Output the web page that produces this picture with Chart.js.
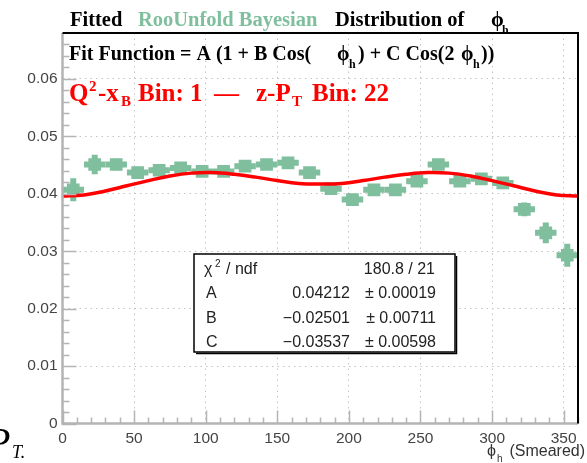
<!DOCTYPE html>
<html>
<head>
<meta charset="utf-8">
<script src="https://cdn.jsdelivr.net/npm/chart.js@4.4.1/dist/chart.umd.min.js"></script>
<style>
    body { margin: 0; background: #fff; }
    canvas { display: block; }
</style>
</head>
<body>
<canvas id="fitChart" width="587" height="463"></canvas>
<script>
// Data
const phiBins = [7.5, 22.5, 37.5, 52.5, 67.5, 82.5, 97.5, 112.5, 127.5, 142.5, 157.5, 172.5,
    187.5, 202.5, 217.5, 232.5, 247.5, 262.5, 277.5, 292.5, 307.5, 322.5, 337.5, 352.5];
const unfoldedValues = [0.0407, 0.0451, 0.0451, 0.0437, 0.0441, 0.0445, 0.0439, 0.0439,
    0.0448, 0.0451, 0.0454, 0.0437, 0.0409, 0.0390, 0.0407, 0.0407,
    0.0422, 0.0451, 0.0422, 0.0426, 0.0419, 0.0373, 0.0332, 0.0293];
const unfoldedErrors = [0.0020, 0.0017, 0.0010, 0.0010, 0.0009, 0.0009, 0.0009, 0.0009,
    0.0009, 0.0009, 0.0009, 0.0009, 0.0009, 0.0009, 0.0009, 0.0009,
    0.0009, 0.0009, 0.0009, 0.0009, 0.0009, 0.0012, 0.0018, 0.0020];
const fitPhi = [0, 15, 30, 45, 60, 75, 90, 105, 120, 135, 150, 165, 180,
    195, 210, 225, 240, 255, 270, 285, 300, 315, 330, 345, 360];
const fitValues = [0.0396, 0.0398, 0.0405, 0.0414, 0.0423, 0.0431, 0.0436, 0.0437, 0.0434,
    0.0429, 0.0423, 0.0418, 0.0417, 0.0418, 0.0423, 0.0429, 0.0434, 0.0437, 0.0436,
    0.0431, 0.0423, 0.0414, 0.0405, 0.0398, 0.0396];
const xTicks = [0, 50, 100, 150, 200, 250, 300, 350];
const yTicks = [0, 0.01, 0.02, 0.03, 0.04, 0.05, 0.06];
const statsRows = [
    ['A', '0.04212', '0.00019'],
    ['B', '\u22120.02501', '0.00711'],
    ['C', '\u22120.03537', '0.00598']
];

const GREEN = '#7fbf9e';
const RED = '#ff0000';
const AXIS = '#b4b4b4';
const SERIF = '"Liberation Serif", "DejaVu Serif", serif';
const SANS = '"Liberation Sans", Arial, sans-serif';

// each piece: [text, x, dy, font, color]
const drawPieces = (ctx, y, pieces) => {
    pieces.forEach(([text, x, dy, font, color]) => {
        ctx.font = font;
        ctx.fillStyle = color;
        ctx.fillText(text, x, y + dy);
    });
};

// Error bars, under the markers
const errorBars = {
    id: 'errorBars',
    beforeDatasetsDraw: (chart) => {
        const { ctx, scales: { x, y } } = chart;
        ctx.save();
        ctx.strokeStyle = GREEN;
        ctx.lineWidth = 6;
        phiBins.forEach((phi, i) => {
            const px = x.getPixelForValue(phi);
            const py = y.getPixelForValue(unfoldedValues[i]);
            ctx.beginPath();
            ctx.moveTo(x.getPixelForValue(phi - 7.5), py);
            ctx.lineTo(x.getPixelForValue(phi + 7.5), py);
            ctx.moveTo(px, y.getPixelForValue(unfoldedValues[i] - unfoldedErrors[i]));
            ctx.lineTo(px, y.getPixelForValue(unfoldedValues[i] + unfoldedErrors[i]));
            ctx.stroke();
        });
        ctx.restore();
    }
};

// Frame, ticks, texts and stats box
const decorations = {
    id: 'decorations',
    afterDraw: (chart) => {
        const { ctx, chartArea: a, scales: { x, y } } = chart;
        ctx.save();

        // ticks inside the frame
        ctx.strokeStyle = AXIS;
        ctx.lineWidth = 1.5;
        ctx.beginPath();
        for (let v = 0; v <= 0.068; v += 0.002) {
            const py = Math.round(y.getPixelForValue(v)) + 0.5;
            const major = Math.abs(v / 0.01 - Math.round(v / 0.01)) < 1e-6;
            ctx.moveTo(a.left, py);
            ctx.lineTo(a.left + (major ? 14 : 7), py);
        }
        for (let v = 0; v <= 360; v += 10) {
            const px = Math.round(x.getPixelForValue(v)) + 0.5;
            ctx.moveTo(px, a.bottom);
            ctx.lineTo(px, a.bottom - (v % 50 === 0 ? 13 : 6));
        }
        ctx.stroke();

        // axis lines
        ctx.lineWidth = 2.5;
        ctx.beginPath();
        ctx.moveTo(a.left, a.top);
        ctx.lineTo(a.left, a.bottom);
        ctx.lineTo(a.right, a.bottom);
        ctx.stroke();
        ctx.strokeStyle = '#000';
        ctx.lineWidth = 2;
        ctx.beginPath();
        ctx.moveTo(a.left, a.top);
        ctx.lineTo(a.right, a.top);
        ctx.lineTo(a.right, a.bottom);
        ctx.stroke();

        ctx.textBaseline = 'alphabetic';
        ctx.textAlign = 'left';

        // title
        const tFont = 'bold 20.5px ' + SERIF;
        drawPieces(ctx, 26, [
            ['Fitted', 70, 0, tFont, '#000'],
            ['RooUnfold Bayesian', 138, 0, tFont, GREEN],
            ['Distribution of', 335, 0, tFont, '#000'],
            ['\u03d5', 491, 0, tFont, '#000'],
            ['h', 502, 8, 'bold 12px ' + SERIF, '#000']
        ]);

        // fit function
        const fFont = 'bold 20px ' + SERIF;
        const fSub = 'bold 12px ' + SERIF;
        drawPieces(ctx, 60, [
            ['Fit Function = A (1 + B Cos(', 69, 0, fFont, '#000'],
            ['\u03d5', 337, 0, fFont, '#000'],
            ['h', 349, 8, fSub, '#000'],
            [') + C Cos(2', 358, 0, fFont, '#000'],
            ['\u03d5', 461, 0, fFont, '#000'],
            ['h', 473, 8, fSub, '#000'],
            ['))', 481, 0, fFont, '#000']
        ]);

        // bin label
        const rFont = 'bold 25px ' + SERIF;
        const rSmall = 'bold 15px ' + SERIF;
        drawPieces(ctx, 101, [
            ['Q', 69, 0, rFont, RED],
            ['2', 89, -10, rSmall, RED],
            ['-x', 98, 0, rFont, RED],
            ['B', 121, 5, rSmall, RED],
            ['Bin: 1', 138, 0, rFont, RED],
            ['\u2014', 214, 0, rFont, RED],
            ['z-P', 256, 0, rFont, RED],
            ['T', 292, 5, rSmall, RED],
            ['Bin: 22', 312, 0, rFont, RED]
        ]);

        // stats box
        const bx = 194, by = 254, bw = 261, bh = 98;
        ctx.fillStyle = '#fff';
        ctx.fillRect(bx, by, bw, bh);
        ctx.strokeStyle = '#000';
        ctx.lineWidth = 1.5;
        ctx.strokeRect(bx, by, bw, bh);
        ctx.beginPath();
        ctx.moveTo(bx + 2, by + bh + 1.5);
        ctx.lineTo(bx + bw + 1.5, by + bh + 1.5);
        ctx.lineTo(bx + bw + 1.5, by + 2);
        ctx.stroke();

        const sFont = '16px ' + SANS;
        const ink = '#222';
        drawPieces(ctx, 274, [
            ['\u03c7', 204, 0, sFont, ink],
            ['2', 215, -7, '10px ' + SANS, ink],
            ['/ ndf', 226, 0, sFont, ink]
        ]);
        ctx.font = sFont;
        ctx.fillStyle = ink;
        ctx.textAlign = 'right';
        ctx.fillText('180.8 / 21', 435, 274);
        statsRows.forEach((row, i) => {
            const ry = 298 + i * 24.5;
            ctx.textAlign = 'left';
            ctx.fillText(row[0], 206, ry);
            ctx.textAlign = 'right';
            ctx.fillText(row[1], 350, ry);
            ctx.fillText('\u00b1 ' + row[2], 436, ry);
        });

        // x axis title
        ctx.fillStyle = '#333';
        ctx.textAlign = 'right';
        ctx.font = '16px ' + SANS;
        ctx.fillText('(Smeared)', 585, 456);
        ctx.textAlign = 'left';
        ctx.fillText('\u03d5', 487, 456);
        ctx.font = '10px ' + SANS;
        ctx.fillText('h', 497, 462);

        // stray label at the bottom left
        ctx.fillStyle = '#000';
        ctx.font = 'italic 40px ' + SERIF;
        ctx.fillText('P', -14, 455);
        ctx.font = 'italic 18px ' + SERIF;
        ctx.fillText('T.', 12, 458);

        ctx.restore();
    }
};

new Chart(document.getElementById('fitChart'), {
    type: 'scatter',
    data: {
        datasets: [
            {
                type: 'line',
                label: 'Fit',
                data: fitPhi.map((phi, i) => ({ x: phi, y: fitValues[i] })),
                borderColor: RED,
                borderWidth: 3.5,
                pointRadius: 0,
                tension: 0.4,
                order: 0
            },
            {
                label: 'RooUnfold Bayesian',
                data: phiBins.map((phi, i) => ({ x: phi, y: unfoldedValues[i] })),
                backgroundColor: GREEN,
                borderWidth: 0,
                pointStyle: 'rect',
                pointRadius: 9,
                order: 1
            }
        ]
    },
    options: {
        responsive: false,
        animation: false,
        devicePixelRatio: 1,
        layout: { padding: { left: 0, right: 2, top: 33, bottom: 0 } },
        plugins: { legend: { display: false }, tooltip: { enabled: false } },
        scales: {
            x: {
                type: 'linear',
                min: 0,
                max: 360,
                afterBuildTicks: (s) => { s.ticks = xTicks.map(v => ({ value: v })); },
                afterFit: (s) => { s.height = 39.5; },
                ticks: {
                    padding: 6,
                    autoSkip: false,
                    maxRotation: 0,
                    color: '#444',
                    font: { family: SANS, size: 15.5 },
                    callback: (v) => String(v)
                },
                grid: { color: '#c4c4c4', lineWidth: 1, drawTicks: false },
                border: { display: false, dash: [1.5, 4] }
            },
            y: {
                min: 0,
                max: 0.068,
                afterBuildTicks: (s) => { s.ticks = yTicks.map(v => ({ value: v })); },
                afterFit: (s) => { s.width = 62.5; },
                ticks: {
                    padding: 5,
                    autoSkip: false,
                    color: '#444',
                    font: { family: SANS, size: 15.5 },
                    callback: (v) => v === 0 ? '0' : v.toFixed(2)
                },
                grid: { color: '#c4c4c4', lineWidth: 1, drawTicks: false },
                border: { display: false, dash: [1.5, 4] }
            }
        }
    },
    plugins: [errorBars, decorations]
});
</script>
</body>
</html>
